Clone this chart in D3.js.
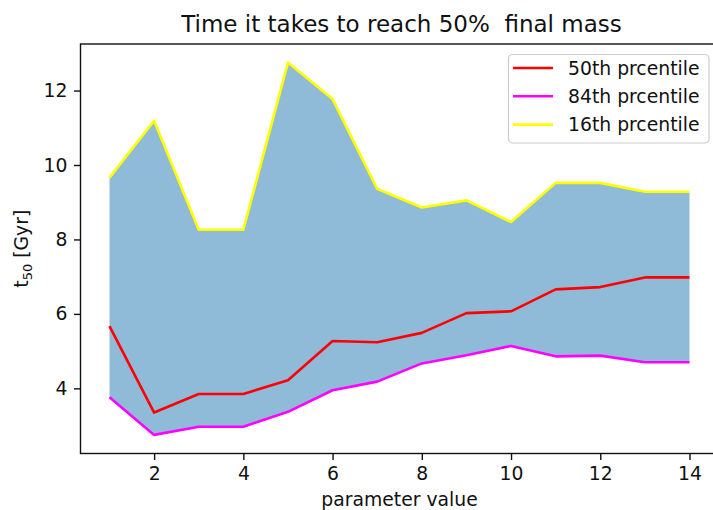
<!DOCTYPE html>
<html>
<head>
<meta charset="utf-8">
<script src="https://cdn.jsdelivr.net/npm/d3@7"></script>
<style>
  html, body { margin: 0; padding: 0; background: #fff; }
  svg { display: block; font-family: "DejaVu Sans", sans-serif; }
  text { white-space: pre; }
</style>
</head>
<body>
<svg id="chart" width="713" height="510"></svg>
<script>
// ---- data ----
const params = [1, 2, 3, 4, 5, 6, 7, 8, 9, 10, 11, 12, 13, 14];
const p50 = [5.67, 3.35, 3.85, 3.85, 4.22, 5.27, 5.24, 5.49, 6.02, 6.07, 6.66, 6.72, 6.98, 6.98];
const p84 = [3.76, 2.75, 2.97, 2.97, 3.37, 3.95, 4.18, 4.67, 4.89, 5.14, 4.86, 4.88, 4.70, 4.70];
const p16 = [9.66, 11.19, 8.26, 8.26, 12.75, 11.77, 9.36, 8.86, 9.05, 8.47, 9.52, 9.52, 9.28, 9.28];
const xTicks = [2, 4, 6, 8, 10, 12, 14];
const yTicks = [4, 6, 8, 10, 12];
const seriesNames = ["50th prcentile", "84th prcentile", "16th prcentile"];
const seriesColors = ["#ff0000", "#ff00ff", "#ffff00"];
const titleText = "Time it takes to reach 50%  final mass";
const xLabel = "parameter value";

(function () {
// ---- layout ----
const mLeft = 80.5, mRight = 718.5, mTop = 44, mBottom = 453.5;
const fs = 18.8, fsTitle = 23;
const ink = "#111";
const svg = d3.select("#chart");

const x = d3.scaleLinear().domain([0.35, 14.65]).range([mLeft, mRight]);
const y = d3.scaleLinear().domain([2.25, 13.25]).range([mBottom, mTop]);

const rows = params.map((p, i) => ({ p, a: p50[i], b: p84[i], c: p16[i] }));

// fill between 84th and 16th
svg.append("path")
  .datum(rows)
  .attr("fill", "#1f77b4")
  .attr("fill-opacity", 0.5)
  .attr("d", d3.area().x(d => x(d.p)).y0(d => y(d.b)).y1(d => y(d.c)));

const seriesData = [p50, p84, p16];
seriesData.forEach((vals, k) => {
  svg.append("path")
    .datum(vals.map((v, i) => [params[i], v]))
    .attr("fill", "none")
    .attr("stroke", seriesColors[k])
    .attr("stroke-width", 2.6)
    .attr("stroke-linejoin", "round")
    .attr("stroke-linecap", "butt")
    .attr("d", d3.line().x(d => x(d[0])).y(d => y(d[1])));
});

// axes
const xAxis = svg.append("g")
  .attr("transform", `translate(0,${mBottom})`)
  .call(d3.axisBottom(x).tickValues(xTicks).tickSize(6.5).tickPadding(6.5).tickFormat(d3.format("d")));
const yAxis = svg.append("g")
  .attr("transform", `translate(${mLeft},0)`)
  .call(d3.axisLeft(y).tickValues(yTicks).tickSize(6.5).tickPadding(6.5).tickFormat(d3.format("d")));
[xAxis, yAxis].forEach(g => {
  g.select(".domain").remove();
  g.selectAll("line").attr("stroke", ink).attr("stroke-width", 1.4);
  g.selectAll("text").attr("font-size", fs).attr("fill", ink).attr("font-family", "DejaVu Sans");
});

// frame
svg.append("rect")
  .attr("x", mLeft).attr("y", mTop)
  .attr("width", mRight - mLeft).attr("height", mBottom - mTop)
  .attr("fill", "none").attr("stroke", ink).attr("stroke-width", 1.4);

// title
svg.append("text")
  .attr("x", (mLeft + mRight) / 2 + 2).attr("y", 32)
  .attr("text-anchor", "middle")
  .attr("font-size", fsTitle).attr("fill", ink)
  .text(titleText);

// x label
svg.append("text")
  .attr("x", (mLeft + mRight) / 2).attr("y", 506)
  .attr("text-anchor", "middle")
  .attr("font-size", fs).attr("fill", ink)
  .text(xLabel);

// y label
const yl = svg.append("text")
  .attr("transform", `translate(28,${(mTop + mBottom) / 2}) rotate(-90)`)
  .attr("text-anchor", "middle")
  .attr("font-size", fs).attr("fill", ink);
yl.append("tspan").text("t");
yl.append("tspan").attr("font-size", 13).attr("dy", 3.5).text("50");
yl.append("tspan").attr("dy", -3.5).text(" [Gyr]");

// legend
const lg = svg.append("g");
lg.append("rect")
  .attr("x", 508.5).attr("y", 54.5).attr("width", 200.5).attr("height", 88.5)
  .attr("rx", 4).attr("fill", "#fff").attr("fill-opacity", 0.8)
  .attr("stroke", "#cccccc").attr("stroke-width", 1.2);
seriesNames.forEach((name, i) => {
  const yy = 68 + i * 28.3;
  lg.append("line")
    .attr("x1", 513).attr("x2", 553).attr("y1", yy).attr("y2", yy)
    .attr("stroke", seriesColors[i]).attr("stroke-width", 2.6);
  lg.append("text")
    .attr("x", 568).attr("y", yy + 6.5)
    .attr("font-size", fs).attr("fill", ink)
    .text(name);
});
})();
</script>
</body>
</html>
